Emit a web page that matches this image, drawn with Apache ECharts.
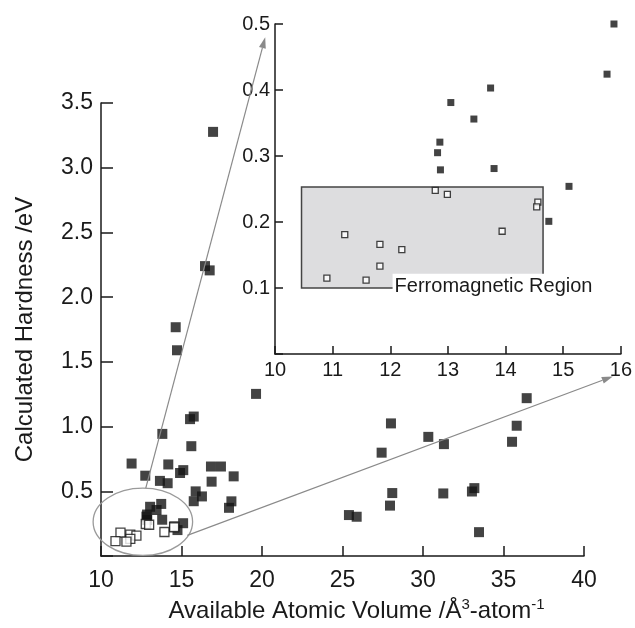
<!DOCTYPE html>
<html>
<head>
<meta charset="utf-8">
<script src="https://cdn.jsdelivr.net/npm/echarts@6/dist/echarts.min.js"></script>
<style>html,body{margin:0;padding:0;background:#fff}#c{width:635px;height:628px}</style>
</head>
<body>
<div id="c"></div>
<script>
// Main-only filled points (non-ferromagnetic)
const otherX = [16.96,16.46,16.75,14.64,14.72,19.63,15.53,15.76,13.81,15.61,11.90,14.18,12.75,13.66,14.14,14.91,15.11,16.83,17.45,16.87,18.24,16.27,18.10,17.95,
  36.44,28.01,30.33,35.82,31.30,35.53,27.43,28.09,31.26,33.19,33.04,27.95,25.40,25.88,33.48];
const otherY = [3.277,2.240,2.207,1.768,1.590,1.253,1.058,1.078,0.944,0.849,0.715,0.708,0.621,0.581,0.563,0.642,0.664,0.692,0.692,0.575,0.616,0.461,0.423,0.373,
  1.220,1.025,0.921,1.007,0.865,0.883,0.799,0.487,0.484,0.525,0.499,0.390,0.317,0.304,0.185];
// Filled points shown in the inset (low hardness, non-ferromagnetic)
const lowX = [15.88,15.76,13.74,13.05,13.45,12.86,12.82,12.87,13.80,15.10,14.75];
const lowY = [0.500,0.424,0.403,0.381,0.356,0.321,0.305,0.279,0.281,0.254,0.201];
// Ferromagnetic (open) points
const ferroX = [12.78,12.99,14.56,14.54,11.21,11.82,12.20,13.94,11.82,10.90,11.58];
const ferroY = [0.248,0.242,0.230,0.223,0.181,0.166,0.158,0.186,0.133,0.115,0.112];
// Tick settings
const mainXTicks = {min:10, max:40, interval:5};
const mainYTicks = {min:0, max:3.5, interval:0.5};
const insetXTicks = {min:10, max:16, interval:1};
const insetYTicks = {min:0, max:0.5, interval:0.1};
// Ferromagnetic region box [x1, y1, x2, y2]
const ferroBox = [10.46, 0.10, 14.65, 0.253];
const ferroLabel = 'Ferromagnetic Region';

const zip = (xs, ys) => xs.map((x, i) => [x, ys[i]]);
const FONT = 'Liberation Sans, Arial, Helvetica, sans-serif';
const AX = '#1a1a1a';

function axisCommon(t, fs, tickLen, margin, hideZero, decimals) {
  return {
    type: 'value', min: t.min, max: t.max, interval: t.interval,
    axisLine: {show: true, onZero: false, lineStyle: {color: AX, width: 1.5}},
    axisTick: {show: true, inside: true, length: tickLen, lineStyle: {color: AX, width: 1.5}},
    splitLine: {show: false},
    axisLabel: {color: '#1a1a1a', fontSize: fs, fontFamily: FONT, margin: margin,
      formatter: v => (hideZero && Math.abs(v) < 1e-9) ? '' : (decimals ? v.toFixed(decimals) : String(v))}
  };
}

const chart = echarts.init(document.getElementById('c'), null, {renderer: 'canvas'});
const option = {
  animation: false,
  backgroundColor: '#fff',
  grid: [
    {left: 101, right: 51, top: 103, bottom: 65},
    {left: 275, right: 14, top: 24, bottom: 274}
  ],
  xAxis: [
    Object.assign(axisCommon(mainXTicks, 23, 10, 13, false, 0), {gridIndex: 0,
      name: '{a|Available Atomic Volume /Å}{s|3}{a|-atom}{s|-1}', nameLocation: 'middle', nameGap: 30,
      nameTextStyle: {padding: [0, 0, 0, 28], rich: {
        a: {fontSize: 24, fontFamily: FONT, color: '#1a1a1a', verticalAlign: 'bottom', lineHeight: 26},
        s: {fontSize: 15, fontFamily: FONT, color: '#1a1a1a', verticalAlign: 'top', lineHeight: 26}
      }}}),
    Object.assign(axisCommon(insetXTicks, 20, 8, 6, false, 0), {gridIndex: 1})
  ],
  yAxis: [
    Object.assign(axisCommon(mainYTicks, 23, 12, 8, true, 1), {gridIndex: 0,
      name: 'Calculated Hardness /eV', nameLocation: 'middle', nameGap: 64,
      nameTextStyle: {fontSize: 24, fontFamily: FONT, color: '#1a1a1a'}}),
    Object.assign(axisCommon(insetYTicks, 20, 8, 5, true, 1), {gridIndex: 1})
  ],
  series: [
    {type: 'scatter', xAxisIndex: 0, yAxisIndex: 0, data: zip(otherX, otherY).concat(zip(lowX, lowY)),
      symbol: 'rect', symbolSize: 10, clip: false, itemStyle: {color: '#141414'}},
    {type: 'scatter', xAxisIndex: 0, yAxisIndex: 0, data: zip(ferroX, ferroY),
      symbol: 'rect', symbolSize: 9, clip: false, itemStyle: {color: '#fff', borderColor: '#141414', borderWidth: 1.3}},
    {type: 'scatter', xAxisIndex: 1, yAxisIndex: 1, data: zip(lowX, lowY),
      symbol: 'rect', symbolSize: 7, clip: false, itemStyle: {color: '#141414'}, z: 3,
      markArea: {silent: true, z: 1, itemStyle: {color: '#dddddf', borderColor: '#444', borderWidth: 1.5},
        data: [[{coord: [ferroBox[0], ferroBox[1]]}, {coord: [ferroBox[2], ferroBox[3]]}]]}},
    {type: 'scatter', xAxisIndex: 1, yAxisIndex: 1, data: zip(ferroX, ferroY), z: 4,
      symbol: 'rect', symbolSize: 6, clip: false, itemStyle: {color: '#fff', borderColor: '#141414', borderWidth: 1.3}}
  ]
};
chart.setOption(option);

// Annotation geometry (data units)
const ellipseMain = {cx: 12.6, cy: 0.265, rx: 3.09, ry: 0.26};
const arrow1 = {fromMain: [12.78, 0.525], toInset: [9.83, 0.48]};
const arrow2 = {fromMain: [15.36, 0.16], toInset: [15.86, -0.034]};
const labelAnchorInset = [12.04, 0.102];

function px(gi, p) { return chart.convertToPixel({gridIndex: gi}, p); }
function arrowGraphics(a) {
  const p0 = px(0, a.fromMain), p1 = px(1, a.toInset);
  const dx = p1[0] - p0[0], dy = p1[1] - p0[1], L = Math.hypot(dx, dy);
  const ux = dx / L, uy = dy / L, hl = 11, hw = 3.5;
  const bx = p1[0] - ux * hl, by = p1[1] - uy * hl;
  return [
    {type: 'line', shape: {x1: p0[0], y1: p0[1], x2: bx, y2: by}, style: {stroke: '#8a8a8a', lineWidth: 1.2}, z: 10},
    {type: 'polygon', shape: {points: [[p1[0], p1[1]], [bx - uy * hw, by + ux * hw], [bx + uy * hw, by - ux * hw]]},
      style: {fill: '#8a8a8a'}, z: 10}
  ];
}
const c0 = px(0, [ellipseMain.cx, ellipseMain.cy]);
const cR = px(0, [ellipseMain.cx + ellipseMain.rx, ellipseMain.cy + ellipseMain.ry]);
const lp = px(1, labelAnchorInset);
chart.setOption({
  graphic: [
    {type: 'ellipse', shape: {cx: c0[0], cy: c0[1], rx: cR[0] - c0[0], ry: c0[1] - cR[1]},
      style: {fill: 'none', stroke: '#9a9a9a', lineWidth: 1.3}, z: 10}
  ].concat(arrowGraphics(arrow1), arrowGraphics(arrow2), [
    {type: 'text', x: lp[0], y: lp[1], z: 20,
      style: {text: ferroLabel, fontSize: 20, fontFamily: FONT, fill: '#1a1a1a', verticalAlign: 'middle', align: 'left',
        backgroundColor: '#fff', padding: [3, 2, 3, 2]}}
  ])
});
</script>
</body>
</html>
